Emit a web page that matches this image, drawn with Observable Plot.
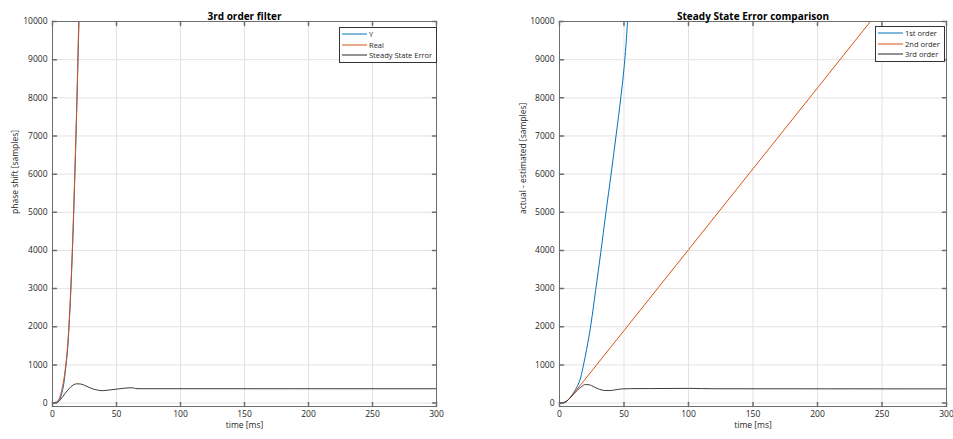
<!DOCTYPE html>
<html>
<head>
<meta charset="utf-8">
<script src="https://cdn.jsdelivr.net/npm/d3@7"></script>
<script src="https://cdn.jsdelivr.net/npm/@observablehq/plot@0.6"></script>
<style>
  html, body { margin: 0; padding: 0; background: #fff; }
  #wrap { position: relative; width: 953px; height: 439px; font-family: "Open Sans", sans-serif; }
  .panel { position: absolute; top: 0; }
  .legend { position: absolute; border: 1px solid #333; background: #fff; font-size: 7.5px; color: #262626; padding: 1px 4px 1px 2px; }
  .legend .row { display: flex; align-items: center; height: 10.5px; }
  .legend svg { margin-right: 2px; }
</style>
</head>
<body>
<div id="wrap"></div>
<script>
// ---- data (time [ms], value [samples]) ----
const xTicks = [0, 50, 100, 150, 200, 250, 300];
const yTicks = [0, 1000, 2000, 3000, 4000, 5000, 6000, 7000, 8000, 9000, 10000];

// Left panel: 3rd order filter
const leftTitle = "3rd order filter";
const leftYLabel = "phase shift [samples]";
const leftNames = ["Y", "Real", "Steady State Error"];
const leftY = [[0,0],[3,10],[5,60],[7,220],[9,550],[10,820],[12,1500],[14,2700],[16,4400],[17.5,6000],[19.1,7900],[20.7,10000],[21.5,11000]];
const leftReal = [[0,0],[3,30],[5,100],[7,300],[9,650],[10,900],[12,1600],[14,2800],[16,4500],[17.4,6000],[19,7900],[20.5,10000],[21.3,11000]];
const leftErr = [[0,0],[3,15],[5,50],[8,170],[10,260],[13,380],[16,470],[19,505],[22,500],[26,450],[30,390],[35,340],[39,325],[45,345],[50,365],[55,385],[60,400],[63,398],[65,380],[70,376],[300,375]];

// Right panel: Steady State Error comparison
const rightTitle = "Steady State Error comparison";
const rightYLabel = "actual - estimated [samples]";
const rightNames = ["1st order", "2nd order", "3rd order"];
const first = [[0,0],[4,20],[8,130],[10,220],[12,330],[14,450],[16.5,680],[18.6,1000],[21,1400],[24.3,2050],[28,2950],[32,3950],[36,5000],[40,6000],[44,7050],[47.5,8000],[50.6,9000],[52.7,10000],[54,11000]];
const second = [[0,0],[4,25],[8,130],[10,210],[12,300],[15,420],[20,630],[50,1900],[100,4020],[150,6140],[200,8260],[241,10000],[250,10380]];
const third = [[0,0],[3,10],[5,35],[8.8,157],[11,240],[14,340],[17,430],[20,485],[23,480],[27,420],[31,360],[35,330],[39,328],[43,345],[48,370],[55,378],[70,380],[100,385],[120,375],[300,372]];

const colors = ["#0072BD", "#D95319", "#262626"];

const tickShape = {draw(ctx, l) { ctx.moveTo(0, 0); ctx.lineTo(0, -l); }};

function panel(series, title, ylabel, opts) {
  const P = (d) => d;
  return Plot.plot({
    width: opts.width, height: 439,
    marginLeft: opts.ml, marginRight: opts.mr, marginTop: 21, marginBottom: 33,
    style: {fontFamily: "Open Sans, sans-serif", fontSize: "8.5px", color: "#262626", background: "#fff"},
    x: {domain: [0, 300], ticks: xTicks},
    y: {domain: [-90, 10000], ticks: yTicks},
    marks: [
      Plot.gridX(xTicks, {stroke: "#e3e3e3", strokeOpacity: 1}),
      Plot.gridY(yTicks, {stroke: "#e3e3e3", strokeOpacity: 1}),
      ...series.map((s, i) => Plot.line(s, {x: d => d[0], y: d => d[1], stroke: colors[i], strokeWidth: i === 2 ? 0.9 : 1, curve: "monotone-x", clip: true})),
      Plot.frame({stroke: "#6e6e6e", strokeWidth: 1}),
      Plot.vector(xTicks, {x: P, frameAnchor: "bottom", rotate: 0, length: 4, anchor: "start", shape: tickShape, stroke: "#6e6e6e"}),
      Plot.vector(xTicks, {x: P, frameAnchor: "top", rotate: 180, length: 4, anchor: "start", shape: tickShape, stroke: "#6e6e6e"}),
      Plot.vector(yTicks, {y: P, frameAnchor: "left", rotate: 90, length: 4, anchor: "start", shape: tickShape, stroke: "#6e6e6e"}),
      Plot.vector(yTicks, {y: P, frameAnchor: "right", rotate: -90, length: 4, anchor: "start", shape: tickShape, stroke: "#6e6e6e"}),
      Plot.axisX(xTicks, {tickSize: 0, tickPadding: 4, label: null, fill: "#262626", tickFormat: d => String(d)}),
      Plot.axisY(yTicks, {tickSize: 0, tickPadding: 5, label: null, fill: "#262626", tickFormat: d => String(d)}),
      Plot.text([title], {text: P, frameAnchor: "top", dy: -9, fontWeight: "bold", fontSize: 10, fill: "#000"}),
      Plot.text(["time [ms]"], {text: P, frameAnchor: "bottom", dy: 21, fontSize: 8.5, fill: "#262626"}),
      Plot.text([ylabel], {text: P, frameAnchor: "left", dx: opts.ylx, rotate: -90, fontSize: 8.5, fill: "#262626"})
    ]
  });
}

function legend(names, left, top) {
  const div = document.createElement("div");
  div.className = "legend";
  div.style.left = left + "px";
  div.style.top = top + "px";
  names.forEach((n, i) => {
    const row = document.createElement("div");
    row.className = "row";
    row.innerHTML = `<svg width="25" height="4"><line x1="0" x2="25" y1="2" y2="2" stroke="${colors[i]}" stroke-width="1"/></svg><span>${n}</span>`;
    div.appendChild(row);
  });
  return div;
}

const wrap = document.getElementById("wrap");
const L = panel([leftY, leftReal, leftErr], leftTitle, leftYLabel, {width: 476, ml: 52, mr: 40, ylx: -37});
L.classList.add("panel"); L.style.left = "0px";
const R = panel([first, second, third], rightTitle, rightYLabel, {width: 477, ml: 83, mr: 7, ylx: -36});
R.classList.add("panel"); R.style.left = "476px";
wrap.appendChild(L);
wrap.appendChild(R);
wrap.appendChild(legend(leftNames, 339, 27));
wrap.appendChild(legend(rightNames, 875, 26));
</script>
</body>
</html>
